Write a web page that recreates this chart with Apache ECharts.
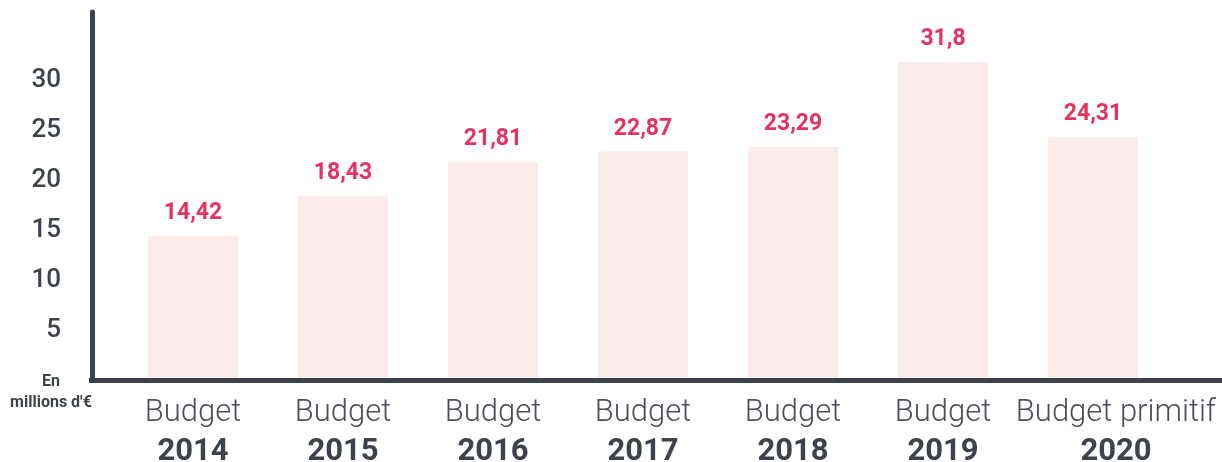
<!DOCTYPE html>
<html>
<head>
<meta charset="utf-8">
<script src="https://cdn.jsdelivr.net/npm/echarts@6/dist/echarts.min.js"></script>
<style>
html,body{margin:0;padding:0;background:#fff;}
#chart{width:1222px;height:462px;}
</style>
</head>
<body>
<div id="chart"></div>
<script>
const categoryTop = ['Budget', 'Budget', 'Budget', 'Budget', 'Budget', 'Budget', 'Budget primitif'];
const categoryYear = ['2014', '2015', '2016', '2017', '2018', '2019', '2020'];
const values = [14.42, 18.43, 21.81, 22.87, 23.29, 31.8, 24.31];
const valueLabels = ['14,42', '18,43', '21,81', '22,87', '23,29', '31,8', '24,31'];
const unitLabel = 'En\nmillions d\'€';

const dark = '#3d434d';
const chart = echarts.init(document.getElementById('chart'));
chart.setOption({
  animation: false,
  grid: { left: 118, right: 54, top: 12, bottom: 82, outerBoundsMode: 'none', containLabel: false },
  xAxis: {
    type: 'category',
    data: categoryTop.map((t, i) => t + '\n' + categoryYear[i]),
    axisLine: { show: false },
    axisTick: { show: false },
    axisLabel: {
      margin: 14,
      interval: 0,
      formatter: function (v, i) {
        if (i === categoryTop.length - 1) {
          return '{c|' + categoryTop[i] + '}\n{d|' + categoryYear[i] + '}';
        }
        return '{a|' + categoryTop[i] + '}\n{b|' + categoryYear[i] + '}';
      },
      rich: {
        a: { fontFamily: 'Roboto', fontWeight: 300, fontSize: 31, color: '#4a4f5a', lineHeight: 39 },
        b: { fontFamily: 'Roboto', fontWeight: 'bold', fontSize: 31, color: dark, lineHeight: 39 },
        c: { fontFamily: 'Roboto', fontWeight: 300, fontSize: 31, color: '#4a4f5a', lineHeight: 39, padding: [0, 0, 0, 46] },
        d: { fontFamily: 'Roboto', fontWeight: 'bold', fontSize: 31, color: dark, lineHeight: 39, padding: [0, 0, 0, 46] }
      }
    }
  },
  yAxis: {
    type: 'value',
    min: 0,
    max: 36.8,
    interval: 5,
    offset: 26,
    splitLine: { show: false },
    axisTick: { show: false },
    axisLine: { show: true, lineStyle: { color: dark, width: 5 } },
    axisLabel: {
      margin: 31,
      fontFamily: 'Roboto',
      fontWeight: 500,
      fontSize: 26,
      color: dark,
      formatter: function (v) { return (v > 0 && v <= 30) ? String(v) : ''; }
    }
  },
  series: [{
    type: 'bar',
    data: values,
    barWidth: 90,
    itemStyle: { color: '#fbebeb' },
    label: {
      show: true,
      position: 'top',
      distance: 11,
      fontFamily: 'Roboto',
      fontWeight: 'bold',
      fontSize: 23,
      color: '#e53261',
      formatter: function (p) { return valueLabels[p.dataIndex]; }
    }
  }],
  graphic: [
    {
      type: 'rect',
      shape: { x: 89, y: 378, width: 1133, height: 5 },
      style: { fill: dark },
      z: 100
    },
    {
      type: 'text',
      x: 51,
      y: 371,
      style: {
        text: unitLabel,
        fontFamily: 'Roboto',
        fontWeight: 'bold',
        fontSize: 16,
        lineHeight: 21,
        fill: dark,
        align: 'center'
      }
    }
  ]
});
</script>
</body>
</html>
